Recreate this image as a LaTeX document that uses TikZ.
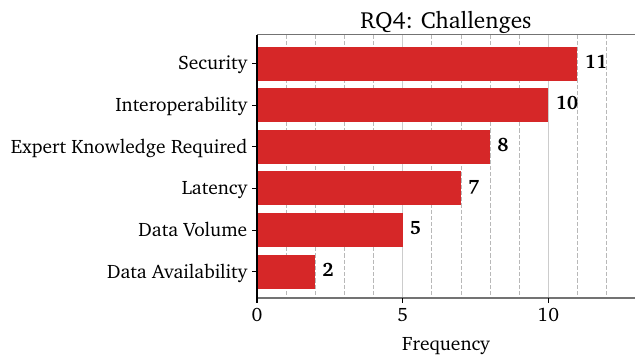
\documentclass[tikz,border=0pt]{standalone}
\usepackage[T1]{fontenc}
\renewcommand\rmdefault{bch}
\begin{document}
\begin{tikzpicture}[x=0.72pt,y=-0.72pt,
  bar/.style={fill=barred,draw=none},
  minorgrid/.style={draw=black!28,line width=0.6pt,dash pattern=on 3pt off 1.5pt},
  majorgrid/.style={draw=black!20,line width=0.8pt},
  catlabel/.style={anchor=base east,font=\fontsize{14}{16}\selectfont,inner sep=0pt},
  vallabel/.style={anchor=base west,font=\fontsize{14}{16}\selectfont\bfseries,inner sep=0pt},
  ticklabel/.style={anchor=base,font=\fontsize{14}{16}\selectfont,inner sep=0pt}]
\definecolor{barred}{HTML}{D62728}
\useasboundingbox (0,0) rectangle (635,356);
% x scale: 0 -> 257, one unit = 29.13
\def\xo{257}\def\u{29.13}
% grid
\foreach \v in {1,2,3,4,6,7,8,9,11,12}
  \draw[minorgrid] ({\xo+\v*\u},34.7) -- ({\xo+\v*\u},298);
\foreach \v in {5,10}
  \draw[majorgrid] ({\xo+\v*\u},34.7) -- ({\xo+\v*\u},298);
% bars with value labels and category ticks
\foreach \name/\val/\yc [count=\i] in {Security/11/63.7,Interoperability/10/105.3,Expert Knowledge Required/8/146.9,Latency/7/188.5,Data Volume/5/230.1,Data Availability/2/271.7}{
  \path[bar] (\xo,\yc-17) rectangle ({\xo+\val*\u},\yc+17);
  \coordinate (b\i) at ({\xo+\val*\u},\yc);
  \node[vallabel] (v\i) at ([xshift=5,yshift=-4.6*0.72]b\i) {\val};
  \draw[line width=0.8pt] (\xo,\yc) -- (\xo-5,\yc) coordinate (t\i);
  \node[catlabel] (c\i) at ([xshift=-4.5*0.72,yshift=-6.3*0.72]t\i) {\name};
}
% spines
\draw[black!55,line width=1pt] (\xo,34.7) -- (635,34.7);
\draw[black!55,line width=1pt] (\xo,298) -- (635,298);
\draw[black,line width=0.9pt] (\xo,34.7) -- (\xo,298);
% x ticks
\foreach \v in {0,5,10}{
  \draw[line width=0.8pt] ({\xo+\v*\u},298) -- ({\xo+\v*\u},302.5);
  \node[ticklabel] (x\v) at ({\xo+\v*\u},321.7) {\v};
}
\node[anchor=base,font=\fontsize{14}{16}\selectfont,inner sep=0pt] (xl) at (446,350) {Frequency};
\node[anchor=base,font=\fontsize{16.8}{19}\selectfont,inner sep=0pt] (title) at (446,28.3) {RQ4: Challenges};
\end{tikzpicture}
\end{document}
